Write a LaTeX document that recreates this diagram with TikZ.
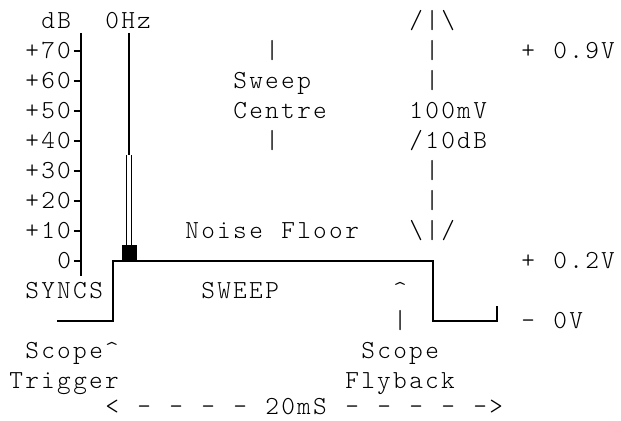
\documentclass[tikz,border=0pt]{standalone}
\usepackage{fontspec}
\newfontfamily\asciifont[LetterSpace=9.03]{Latin Modern Mono Light}
\usetikzlibrary{positioning}

\begin{document}
\begin{tikzpicture}[x=12pt, y=-22.5pt,
    every node/.style={font=\asciifont\fontsize{19.5pt}{22.5pt}\selectfont,
                       anchor=base west, inner sep=0pt},
    trace/.style={line width=1.5pt},
    thin trace/.style={line width=1.2pt}]

    \useasboundingbox (-1.0625,-0.7) rectangle (37.75,13.333);

    % 1. dB axis with ticks
    \draw[trace] (4,0.4) -- (4,8.5);
    \foreach \r in {1,...,8} {
        \draw[trace] (3.55,\r) -- (4,\r);
    }
    \foreach \db [count=\r] in {70,60,...,10} {
        \node (db\db) at (0.5,\r+0.26) {+\db};
    }
    \node (db0)    at (2.5,8.26) {0};
    \node (dB)     at (1.5,0.26) {dB};
    \node (zeroHz) at (5.5,0.26) {0Hz};

    % 2. 0Hz spike
    \draw[trace] (7,0.4) -- (7,4.47);
    \draw[thin trace] (6.85,4.47) -- (6.85,7.5);
    \draw[thin trace] (7.15,4.47) -- (7.15,7.5);

    % 3. Sweep waveform
    \draw[trace] (2.5,10) -- (6,10) -- (6,8) -- (26,8) -- (26,10) -- (30,10) -- (30,9.5);
    \fill (6.56,7.47) rectangle (7.5,8.02);

    % 4. Sweep centre marker
    \node (sc1)    at (15.5,1.26) {|};
    \node (sweep)  at (13.5,2.26) {Sweep};
    \node (centre) at (13.5,3.26) {Centre};
    \node (sc2)    at (15.5,4.26) {|};
    \node (noise)  at (10.5,7.26) {Noise};
    \node (floor)  at (16.5,7.26) {Floor};

    % 5. 100mV/10dB scale arrow
    \node (up)    at (24.5,0.26) {/|\textbackslash};
    \node (sa1)   at (25.5,1.26) {|};
    \node (sa2)   at (25.5,2.26) {|};
    \node (mv)    at (24.5,3.26) {100mV};
    \node (perdb) at (24.5,4.26) {/10dB};
    \node (sa3)   at (25.5,5.26) {|};
    \node (sa4)   at (25.5,6.26) {|};
    \node (down)  at (24.5,7.26) {\textbackslash|/};

    % 6. Voltage levels
    \node (p09) at (31.5,1.26)  {+};
    \node (v09) at (33.5,1.26)  {0.9V};
    \node (p02) at (31.5,8.26)  {+};
    \node (v02) at (33.5,8.26)  {0.2V};
    \node (m00) at (31.5,10.26) {-};
    \node (v00) at (33.5,10.26) {0V};

    % 7. Sync and sweep labels
    \node (syncs)  at (0.5,9.26)   {SYNCS};
    \node (sweepl) at (11.5,9.26)  {SWEEP};
    \node (fbhat)  at (23.5,9.26)  {\textasciicircum};
    \node (fbbar)  at (23.5,10.26) {|};
    \node (trig1)  at (0.5,11.26)  {Scope\textasciicircum};
    \node (trig2)  at (-0.5,12.26) {Trigger};
    \node (fly1)   at (21.5,11.26) {Scope};
    \node (fly2)   at (20.5,12.26) {Flyback};

    % 8. Period
    \node (lt) at (5.5,13.1) {<};
    \foreach \c in {8,10,12,14,21,23,25,27} {
        \node (dash\c) at (\c-0.5,13.1) {-};
    }
    \node (period) at (15.5,13.1) {20mS};
    \node (gt) at (28.5,13.1) {->};

\end{tikzpicture}
\end{document}
